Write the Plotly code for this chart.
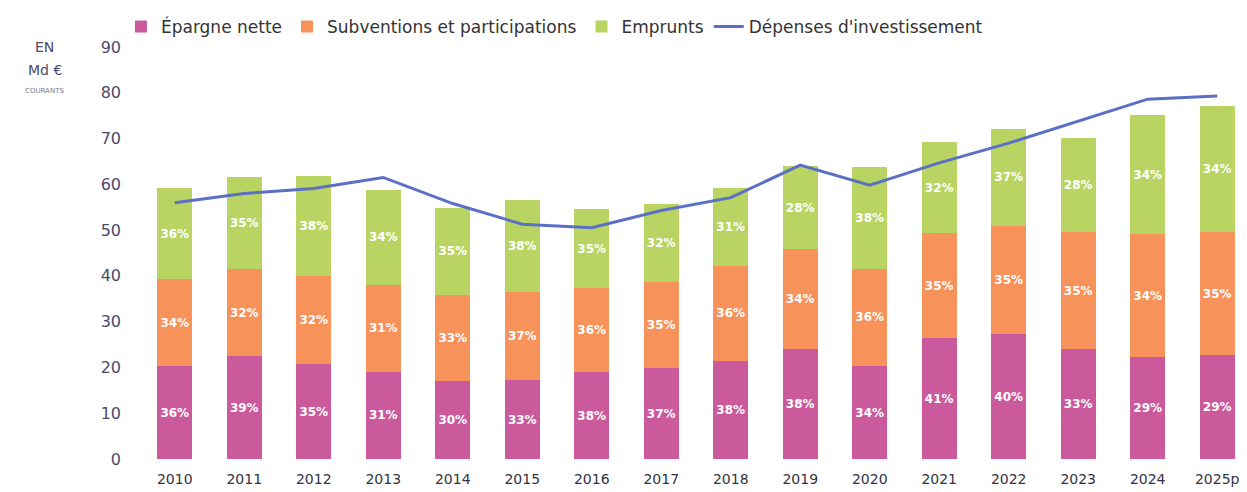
import plotly.graph_objects as go

years = ["2010", "2011", "2012", "2013", "2014", "2015", "2016", "2017",
         "2018", "2019", "2020", "2021", "2022", "2023", "2024", "2025p"]

epargne = [20.3, 22.5, 20.7, 19.1, 17.1, 17.2, 18.9, 19.8,
           21.5, 24.0, 20.3, 26.4, 27.3, 24.0, 22.3, 22.7]
subventions = [19.0, 19.0, 19.3, 19.0, 18.7, 19.2, 18.4, 18.9,
               20.6, 21.8, 21.3, 22.9, 23.6, 25.5, 26.8, 26.8]
emprunts = [19.9, 20.1, 21.9, 20.6, 19.1, 20.2, 17.3, 17.0,
            17.1, 18.2, 22.2, 20.0, 21.2, 20.7, 26.0, 27.6]
depenses = [56.0, 58.0, 59.1, 61.5, 55.8, 51.3, 50.5, 54.3,
            57.1, 64.2, 59.8, 64.7, 69.0, 73.8, 78.6, 79.3]

lab_epargne = ["36%", "39%", "35%", "31%", "30%", "33%", "38%", "37%",
               "38%", "38%", "34%", "41%", "40%", "33%", "29%", "29%"]
lab_subv = ["34%", "32%", "32%", "31%", "33%", "37%", "36%", "35%",
            "36%", "34%", "36%", "35%", "35%", "35%", "34%", "35%"]
lab_empr = ["36%", "35%", "38%", "34%", "35%", "38%", "35%", "32%",
            "31%", "28%", "38%", "32%", "37%", "28%", "34%", "34%"]

y_ticks = [0, 10, 20, 30, 40, 50, 60, 70, 80, 90]

PINK = "#CB5A9D"
ORANGE = "#F7925A"
GREEN = "#B9D463"
BLUE = "#5A70C4"
FONT = "DejaVu Sans"
AXIS_COLOR = "#4A4A6A"

fig = go.Figure()

def bar(name, vals, labels, color):
    return go.Bar(
        name=name, x=years, y=vals, text=labels,
        marker=dict(color=color, line=dict(width=0)),
        width=0.5, textposition="inside", insidetextanchor="middle",
        textangle=0, constraintext="none",
        textfont=dict(color="white", size=12, family=FONT, weight="bold"),
    )

fig.add_trace(bar("Épargne nette", epargne, lab_epargne, PINK))
fig.add_trace(bar("Subventions et participations", subventions, lab_subv, ORANGE))
fig.add_trace(bar("Emprunts", emprunts, lab_empr, GREEN))
fig.add_trace(go.Scatter(
    name="Dépenses d'investissement", x=years, y=depenses, mode="lines",
    line=dict(color=BLUE, width=3),
))

for txt, ypos, size, col in [("EN", 1.0, 14, AXIS_COLOR),
                             ("Md €", 0.944, 14, AXIS_COLOR),
                             ("COURANTS", 0.893, 7, "#7A7A90")]:
    fig.add_annotation(
        text=txt, xref="paper", yref="paper", x=-0.086, y=ypos,
        xanchor="center", yanchor="middle", showarrow=False,
        font=dict(family=FONT, size=size, color=col),
    )

fig.update_layout(
    width=1237, height=484,
    barmode="stack",
    plot_bgcolor="white", paper_bgcolor="white",
    margin=dict(l=132, r=0, t=39, b=33),
    font=dict(family=FONT, color="#333333"),
    legend=dict(
        orientation="h", xref="container", yref="container",
        x=0.0913, y=0.998, xanchor="left", yanchor="top",
        font=dict(family=FONT, size=17, color="#333333"),
        itemwidth=30, tracegroupgap=0, traceorder="normal",
    ),
    xaxis=dict(
        type="category", range=[-0.5, 15.4], automargin=False,
        showgrid=False, showline=False, zeroline=False,
        ticks="", ticklabelstandoff=10,
        tickfont=dict(family=FONT, size=14, color="#333344"),
    ),
    yaxis=dict(
        range=[0, 90], tickvals=y_ticks, automargin=False,
        showgrid=False, showline=False, zeroline=False,
        ticks="", ticklabelstandoff=18,
        tickfont=dict(family=FONT, size=16, color=AXIS_COLOR),
    ),
    showlegend=True,
)

fig.write_html("out.html")
